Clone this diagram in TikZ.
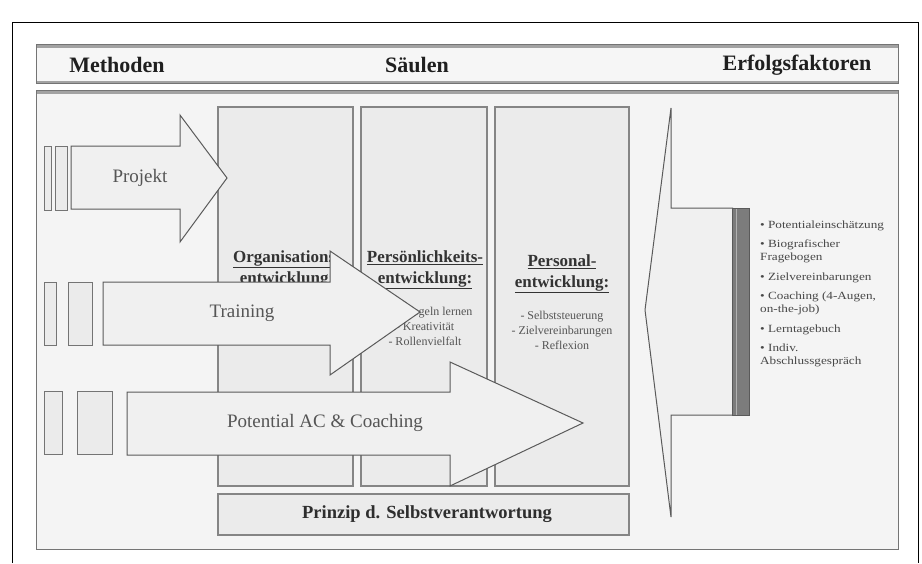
\documentclass[tikz,border=0pt]{standalone}
\usepackage{fontspec}
\setmainfont{Liberation Serif}
\newfontfamily\listfont[FakeStretch=1.2]{Liberation Serif}
\definecolor{panelfill}{HTML}{F4F4F4}
\definecolor{headfill}{HTML}{F6F6F6}
\definecolor{colfill}{HTML}{EBEBEB}
\definecolor{arrowfill}{HTML}{F0F0F0}
\definecolor{edge}{HTML}{747474}
\definecolor{bevel}{HTML}{A2A2A2}
\definecolor{pillaredge}{HTML}{858585}
\definecolor{darkedge}{HTML}{5A5A5A}
\definecolor{textgray}{HTML}{555555}
\definecolor{stripe}{HTML}{7C7C7C}
\begin{document}
\begin{tikzpicture}[x=1pt,y=-1pt,
  panel/.style={fill=#1, draw=edge, line width=1pt},
  pillar/.style={fill=colfill, draw=pillaredge, line width=1.6pt},
  bigarrow/.style={fill=arrowfill, draw=darkedge, line width=1pt, line join=miter},
  stub/.style={fill=colfill, draw=edge, line width=1pt},
  headtxt/.style={font=\fontsize{22}{26}\selectfont\bfseries, text=black!88, inner sep=0pt},
  arrowtxt/.style={font=\fontsize{19}{22}\selectfont, text=textgray, inner sep=0pt},
  pillarhead/.style={font=\fontsize{17}{21}\selectfont\bfseries, text=black!80, align=center, inner sep=0pt},
  pillaritem/.style={font=\fontsize{12}{15}\selectfont, text=textgray, align=center, inner sep=0pt},
  listitem/.style={font=\listfont\fontsize{11}{14}\selectfont, text=black!72, anchor=base west, inner sep=0pt},
]
\useasboundingbox (0,0) rectangle (922,563);
\fill[white] (0,0) rectangle (922,563);

% outer frame
\draw[black, line width=0.8pt] (12,563) -- (12,22) -- (918,22) -- (918,563);

% header band
\draw[panel=headfill] (36,46) rectangle (898,83);
\draw[bevel, line width=3pt] (36,46) -- (898,46) (36,82) -- (898,82);
\draw[edge, line width=1pt] (36,44.5) rectangle (898,83.5);
\node[headtxt] (hmeth) at (117,65) {Methoden};
\node[headtxt] (hsaeul) at (417,65) {Säulen};
\node[headtxt] (herfolg) at (797,65) {Erfolgsfaktoren};

% main panel
\draw[panel=panelfill] (36,91) rectangle (898,549);
\draw[bevel, line width=3pt] (36,92) -- (898,92);
\draw[edge, line width=1pt] (36,90.5) rectangle (898,549);

% pillars
\draw[pillar] (218,107) rectangle (353,486);
\draw[pillar] (361,107) rectangle (487,486);
\draw[pillar] (495,107) rectangle (629,486);
\draw[pillar] (218,494) rectangle (629,535);
\node[font=\fontsize{18.5}{22}\selectfont\bfseries, text=black!82, inner sep=0pt] (prinzip) at (427,514) {Prinzip d. Selbstverantwortung};

% pillar texts
\node[pillarhead] (orghead) at (287,270) {\underline{Organisations-}\\\underline{entwicklung:}};
\node[pillarhead] (perhead) at (425,270) {\underline{Persönlichkeits-}\\\underline{entwicklung:}};
\node[pillaritem] (peritems) at (425,326) {- Spielregeln lernen\\- Kreativität\\- Rollenvielfalt};
\node[pillarhead] (pehead) at (562,274) {\underline{Personal-}\\\underline{entwicklung:}};
\node[pillaritem] (peitems) at (562,330) {- Selbststeuerung\\- Zielvereinbarungen\\- Reflexion};

% success factors: left-pointing arrow with striped end
\draw[bigarrow] (733,208) -- (671,208) -- (671,108) -- (645,310) -- (671,517) -- (671,415) -- (733,415);
\fill[stripe] (732,208) rectangle (749,415);
\draw[black!30, line width=1.2pt] (736.5,208) -- (736.5,415);
\draw[darkedge, line width=0.8pt] (732,208) rectangle (749,415);

\node[listitem] (f1)  at (760,228) {\textbullet\ Potentialeinschätzung};
\node[listitem] (f2)  at (760,247) {\textbullet\ Biografischer};
\node[listitem] (f2b) at (760,260) {Fragebogen};
\node[listitem] (f3)  at (760,280) {\textbullet\ Zielvereinbarungen};
\node[listitem] (f4)  at (760,299) {\textbullet\ Coaching (4-Augen,};
\node[listitem] (f4b) at (760,312) {on-the-job)};
\node[listitem] (f5)  at (760,332) {\textbullet\ Lerntagebuch};
\node[listitem] (f6)  at (760,351) {\textbullet\ Indiv.};
\node[listitem] (f6b) at (760,364) {Abschlussgespräch};

% method arrows (drawn over the pillars)
% Potential AC & Coaching
\draw[stub] (44,391) rectangle (62,454);
\draw[stub] (77,391) rectangle (112,454);
\draw[bigarrow] (127,392) -- (450,392) -- (450,362) -- (583,423) -- (450,486) -- (450,455) -- (127,455) -- cycle;
\node[arrowtxt] (potential) at (325,423) {Potential AC \& Coaching};

% Training
\draw[stub] (44,282) rectangle (56,345);
\draw[stub] (68,282) rectangle (92,345);
\draw[bigarrow] (103,282) -- (330,282) -- (330,251) -- (420,312) -- (330,375) -- (330,345) -- (103,345) -- cycle;
\node[arrowtxt] (training) at (242,313) {Training};

% Projekt
\draw[stub] (44,146) rectangle (51,210);
\draw[stub] (55,146) rectangle (67,210);
\draw[bigarrow] (71,146) -- (180,146) -- (180,115) -- (227,178) -- (180,242) -- (180,209) -- (71,209) -- cycle;
\node[arrowtxt] (projekt) at (140,178) {Projekt};
\end{tikzpicture}
\end{document}
